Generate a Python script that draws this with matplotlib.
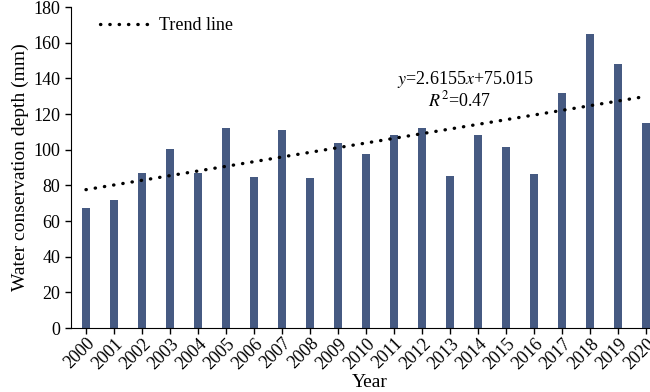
import matplotlib
matplotlib.use("Agg")
import matplotlib.pyplot as plt
import numpy as np

plt.rcParams['font.family'] = ['Liberation Serif', 'DejaVu Serif']

# Data
years = [str(y) for y in range(2000, 2021)]
depth = [67.5, 72, 87, 100.5, 87, 112, 84.5, 111, 84, 104, 97.6,
         108.3, 112.2, 85, 108.3, 101.5, 86.4, 131.6, 165, 148, 115.2]
slope, intercept = 2.6155, 75.015

fig = plt.figure(figsize=(6.5, 3.92), dpi=100)
ax = fig.add_axes([0.109, 0.163, 0.891, 0.819])

x = np.arange(len(years))
ax.bar(x, depth, width=0.28, color="#465a82", zorder=2)

trend = slope * (x + 1) + intercept
ax.plot(x, trend, color="black", lw=2.4, linestyle=(0, (0.1, 2.7)),
        dash_capstyle="round", label="Trend line", zorder=3)

ax.set_xlim(-0.54, 20.14)
ax.set_ylim(0, 180)
ax.set_yticks(range(0, 181, 20))
ax.set_xticks(x)
ax.set_xticklabels(years, rotation=45, ha="right", rotation_mode="anchor")
ax.tick_params(axis="both", labelsize=13, direction="out", length=4, width=1)
ax.tick_params(axis="x", pad=1)

for s in ["top", "right"]:
    ax.spines[s].set_visible(False)

ax.set_ylabel("Water conservation depth (mm)", fontsize=14, labelpad=3)
ax.set_xlabel("Year", fontsize=14, va="top")
ax.xaxis.set_label_coords(0.516, -0.142)

ax.legend(loc="upper left", bbox_to_anchor=(0.022, 1.02), frameon=False,
          fontsize=13, handlelength=2.6, handletextpad=0.7)

ax.text(11.1, 137, r"$y$=2.6155$x$+75.015", fontsize=13,
        math_fontfamily="stix")
ax.text(12.2, 124.5, r"$R^2$=0.47", fontsize=13, math_fontfamily="stix")

fig.savefig("out.png", dpi=100)
